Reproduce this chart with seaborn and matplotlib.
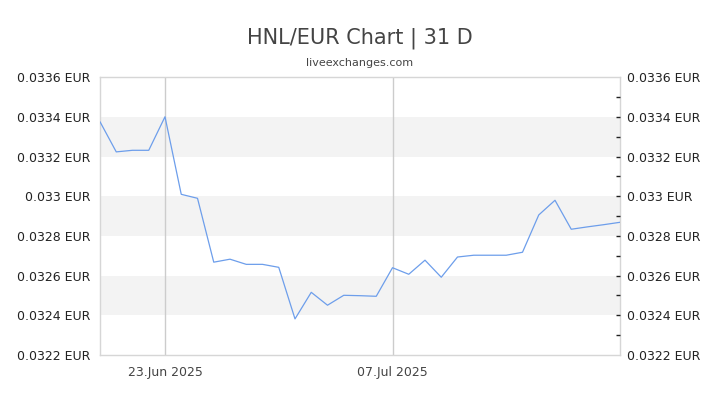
import numpy as np
import pandas as pd
import seaborn as sns
import matplotlib.pyplot as plt
import matplotlib.dates as mdates
from matplotlib.ticker import FixedLocator, FuncFormatter

sns.set_style("white")
plt.rcParams['font.family'] = ['DejaVu Sans']

# daily HNL/EUR rate, 19 Jun 2025 - 21 Jul 2025
dates = pd.date_range("2025-06-19", "2025-07-21", freq="D")
rates = [0.033376, 0.033224, 0.033232, 0.033232, 0.033401, 0.033010, 0.032990,
         0.032668, 0.032683, 0.032657, 0.032657, 0.032642, 0.032382, 0.032516,
         0.032451, 0.032501, 0.032499, 0.032496, 0.032640, 0.032607, 0.032678,
         0.032592, 0.032694, 0.032703, 0.032703, 0.032703, 0.032718, 0.032906,
         0.032980, 0.032834, 0.032846, 0.032857, 0.032869]
y_ticks = [0.0322, 0.0324, 0.0326, 0.0328, 0.0330, 0.0332, 0.0334, 0.0336]
band_ranges = [(0.0324, 0.0326), (0.0328, 0.0330), (0.0332, 0.0334)]
date_ticks = pd.to_datetime(["2025-06-23", "2025-07-07"])

df = pd.DataFrame({"date": dates, "rate": rates})

fig = plt.figure(figsize=(7.2, 4.05), dpi=100)
ax = fig.add_axes([100 / 720, 1 - 355 / 405, 520 / 720, 277.7 / 405])

for lo, hi in band_ranges:
    ax.axhspan(lo, hi, color="#f3f3f3", lw=0, zorder=0)

sns.lineplot(data=df, x="date", y="rate", ax=ax, color="#6d9eeb", lw=0.9, zorder=3)

ax.set_xlim(dates[0], dates[-1])
ax.set_ylim(y_ticks[0], y_ticks[-1])


def eur_label(v, pos=None):
    return f"{v:.4f}".rstrip("0") + " EUR"


ax.yaxis.set_major_locator(FixedLocator(y_ticks))
ax.yaxis.set_major_formatter(FuncFormatter(eur_label))
ax.tick_params(axis="y", length=0, pad=7, labelsize=9, labelcolor="#222222")

ax.xaxis.set_major_locator(FixedLocator(mdates.date2num(date_ticks)))
ax.xaxis.set_major_formatter(mdates.DateFormatter("%d.%b %Y"))
ax.tick_params(axis="x", length=0, pad=8, labelsize=9, labelcolor="#444444")
ax.grid(axis="x", color="#cccccc", lw=1)
ax.grid(axis="y", visible=False)
ax.set_xlabel("")
ax.set_ylabel("")

for s in ax.spines.values():
    s.set_color("#d6d6d6")
    s.set_linewidth(1)

# right-hand axis: inward ticks every 0.0001, labels every 0.0002
ax2 = ax.twinx()
ax2.set_ylim(ax.get_ylim())
right_ticks = np.round(np.arange(0.0322, 0.03365, 0.0001), 4)
ax2.yaxis.set_major_locator(FixedLocator(right_ticks))
ax2.yaxis.set_major_formatter(FuncFormatter(
    lambda v, p: eur_label(v) if round(v * 10000) % 2 == 0 else ""))
ax2.tick_params(axis="y", direction="in", length=3, width=1, color="#222222",
                pad=5, labelsize=9, labelcolor="#222222")
ticks = ax2.yaxis.get_major_ticks()
ticks[0].tick2line.set_visible(False)
ticks[-1].tick2line.set_visible(False)
for s in ax2.spines.values():
    s.set_visible(False)

fig.text(0.5, 1 - 38 / 405, "HNL/EUR Chart | 31 D", ha="center", va="center",
         fontsize=15, color="#444444")
fig.text(0.5, 1 - 63 / 405, "liveexchanges.com", ha="center", va="center",
         fontsize=8, color="#444444")

fig.savefig("out.png", dpi=100)
